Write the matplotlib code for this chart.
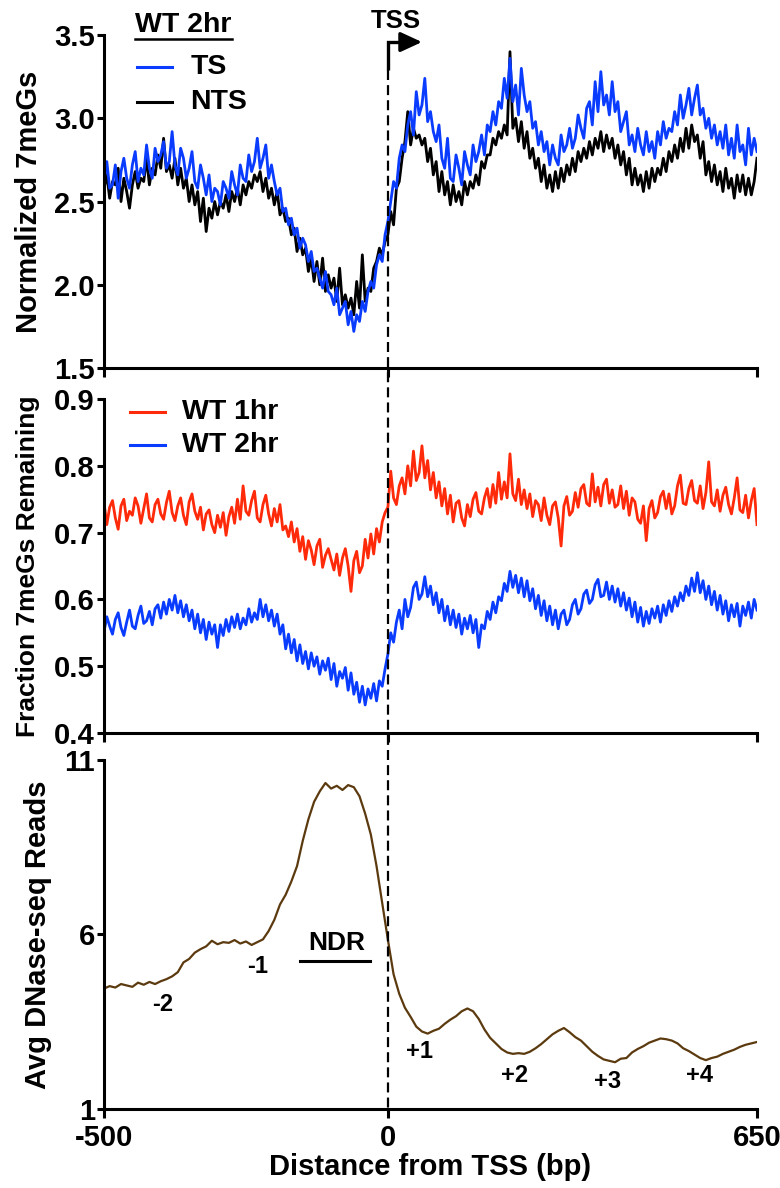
import numpy as np
import matplotlib
matplotlib.use("Agg")
import matplotlib.pyplot as plt
from matplotlib.lines import Line2D
from matplotlib.ticker import FormatStrFormatter
from matplotlib.transforms import blended_transform_factory

plt.rcParams['font.family'] = ['Liberation Sans', 'DejaVu Sans']
plt.rcParams['font.weight'] = 'bold'
plt.rcParams['axes.labelweight'] = 'bold'
plt.rcParams['axes.unicode_minus'] = False

# -------------------------------
# DATA (5 bp steps for 7meG, 10 bp for DNase)
# -------------------------------
pos_5bp = np.arange(-500, 651, 5)
pos_10bp = np.arange(-500, 651, 10)

ts_2hr = [
    2.62, 2.74, 2.58, 2.60, 2.72, 2.52, 2.68, 2.76, 2.64, 2.58, 2.72, 2.80, 2.62, 2.70, 2.66, 2.84, 2.70, 2.64, 2.82, 2.74,
    2.78, 2.86, 2.70, 2.74, 2.92, 2.72, 2.66, 2.82, 2.76, 2.64, 2.70, 2.80, 2.62, 2.58, 2.72, 2.64, 2.54, 2.66, 2.50, 2.58,
    2.56, 2.48, 2.62, 2.58, 2.52, 2.68, 2.60, 2.54, 2.72, 2.64, 2.62, 2.78, 2.68, 2.74, 2.88, 2.70, 2.76, 2.84, 2.64, 2.72,
    2.62, 2.54, 2.58, 2.44, 2.46, 2.36, 2.40, 2.30, 2.34, 2.22, 2.28, 2.24, 2.14, 2.20, 2.08, 2.10, 2.04, 1.98, 2.08, 1.96,
    1.94, 1.88, 1.98, 1.82, 1.86, 1.90, 1.76, 1.84, 1.72, 1.82, 1.78, 1.90, 1.84, 1.96, 2.02, 1.98, 2.12, 2.18, 2.14, 2.30,
    2.38, 2.50, 2.62, 2.58, 2.76, 2.84, 2.80, 2.96, 3.04, 2.90, 3.16, 3.02, 3.08, 3.24, 2.98, 3.04, 2.92, 2.86, 2.96, 2.76,
    2.70, 2.88, 2.64, 2.62, 2.78, 2.70, 2.60, 2.80, 2.72, 2.66, 2.84, 2.74, 2.80, 2.90, 2.78, 2.96, 2.92, 3.04, 2.96, 3.10,
    3.06, 3.24, 3.12, 3.36, 3.10, 3.20, 3.02, 3.30, 3.14, 3.04, 3.10, 2.94, 2.98, 2.84, 2.92, 2.80, 2.86, 2.72, 2.84, 2.76,
    2.72, 2.90, 2.80, 2.84, 2.94, 2.82, 2.88, 3.02, 2.94, 2.88, 3.06, 3.10, 2.96, 3.22, 3.04, 3.28, 3.08, 3.14, 3.02, 3.22,
    3.04, 3.10, 2.92, 2.98, 3.04, 2.84, 2.90, 2.80, 2.94, 2.84, 2.78, 2.92, 2.80, 2.86, 2.76, 2.92, 2.84, 2.98, 2.88, 2.94,
    2.92, 3.04, 2.96, 3.14, 3.00, 3.08, 3.18, 3.02, 3.12, 3.20, 3.02, 3.06, 2.94, 3.00, 2.88, 2.96, 2.84, 2.92, 2.82, 2.96,
    2.78, 2.88, 2.76, 2.96, 2.80, 2.84, 2.72, 2.94, 2.78, 2.88, 2.80,
]

nts_2hr = [
    2.58, 2.66, 2.52, 2.62, 2.60, 2.70, 2.50, 2.64, 2.56, 2.46, 2.60, 2.68, 2.58, 2.64, 2.62, 2.76, 2.60, 2.70, 2.66, 2.78,
    2.70, 2.88, 2.68, 2.72, 2.64, 2.76, 2.60, 2.70, 2.58, 2.64, 2.50, 2.60, 2.48, 2.56, 2.38, 2.52, 2.32, 2.46, 2.40, 2.50,
    2.42, 2.50, 2.46, 2.54, 2.44, 2.56, 2.50, 2.58, 2.48, 2.60, 2.54, 2.62, 2.58, 2.66, 2.62, 2.68, 2.56, 2.64, 2.52, 2.58,
    2.48, 2.56, 2.42, 2.46, 2.38, 2.40, 2.30, 2.34, 2.20, 2.28, 2.18, 2.22, 2.08, 2.16, 2.02, 2.14, 2.00, 2.16, 1.96, 2.06,
    1.98, 2.04, 1.90, 2.10, 1.88, 1.94, 1.86, 1.92, 1.82, 2.02, 1.86, 2.18, 1.90, 1.98, 1.96, 2.10, 2.14, 2.22, 2.18, 2.26,
    2.30, 2.44, 2.36, 2.58, 2.62, 2.76, 2.86, 3.04, 2.84, 2.94, 2.88, 2.90, 2.84, 2.88, 2.74, 2.82, 2.66, 2.74, 2.56, 2.68,
    2.54, 2.62, 2.48, 2.60, 2.50, 2.56, 2.48, 2.62, 2.54, 2.62, 2.58, 2.66, 2.60, 2.74, 2.70, 2.78, 2.78, 2.88, 2.84, 2.92,
    2.88, 2.96, 2.90, 3.40, 2.94, 3.00, 2.86, 2.98, 2.82, 2.92, 2.76, 2.82, 2.70, 2.76, 2.62, 2.72, 2.58, 2.66, 2.56, 2.68,
    2.58, 2.70, 2.62, 2.72, 2.66, 2.76, 2.68, 2.80, 2.74, 2.82, 2.76, 2.86, 2.78, 2.88, 2.82, 2.92, 2.80, 2.90, 2.82, 2.88,
    2.76, 2.84, 2.72, 2.80, 2.66, 2.76, 2.60, 2.70, 2.60, 2.66, 2.56, 2.68, 2.58, 2.70, 2.62, 2.70, 2.66, 2.76, 2.68, 2.80,
    2.74, 2.84, 2.76, 2.88, 2.80, 2.94, 2.82, 2.96, 2.86, 2.90, 2.76, 2.86, 2.66, 2.74, 2.62, 2.72, 2.60, 2.68, 2.56, 2.70,
    2.58, 2.64, 2.52, 2.66, 2.56, 2.66, 2.54, 2.64, 2.54, 2.62, 2.76,
]

frac_1hr = [
    0.745, 0.712, 0.738, 0.748, 0.722, 0.705, 0.740, 0.750, 0.718, 0.732, 0.726, 0.752, 0.740, 0.714, 0.736, 0.758, 0.722, 0.716, 0.742, 0.750,
    0.728, 0.720, 0.745, 0.762, 0.730, 0.718, 0.740, 0.752, 0.726, 0.712, 0.746, 0.758, 0.732, 0.720, 0.738, 0.704, 0.728, 0.734, 0.712, 0.700,
    0.726, 0.708, 0.730, 0.696, 0.724, 0.738, 0.714, 0.750, 0.720, 0.770, 0.732, 0.726, 0.748, 0.762, 0.722, 0.716, 0.742, 0.756, 0.728, 0.710,
    0.736, 0.716, 0.742, 0.704, 0.710, 0.694, 0.716, 0.686, 0.706, 0.672, 0.694, 0.660, 0.688, 0.674, 0.652, 0.680, 0.690, 0.648, 0.666, 0.676,
    0.660, 0.644, 0.668, 0.636, 0.662, 0.676, 0.650, 0.612, 0.658, 0.672, 0.640, 0.650, 0.690, 0.662, 0.698, 0.668, 0.706, 0.686, 0.716, 0.730,
    0.738, 0.792, 0.752, 0.742, 0.770, 0.782, 0.758, 0.800, 0.770, 0.822, 0.778, 0.790, 0.830, 0.782, 0.808, 0.764, 0.790, 0.752, 0.776, 0.740,
    0.766, 0.728, 0.756, 0.716, 0.744, 0.748, 0.722, 0.710, 0.742, 0.724, 0.750, 0.760, 0.732, 0.728, 0.752, 0.766, 0.738, 0.772, 0.744, 0.790,
    0.750, 0.776, 0.752, 0.818, 0.758, 0.748, 0.780, 0.742, 0.764, 0.736, 0.758, 0.724, 0.748, 0.742, 0.718, 0.752, 0.726, 0.712, 0.740, 0.746,
    0.722, 0.680, 0.740, 0.754, 0.726, 0.732, 0.760, 0.738, 0.766, 0.772, 0.744, 0.740, 0.788, 0.746, 0.768, 0.740, 0.772, 0.780, 0.744, 0.764,
    0.738, 0.742, 0.770, 0.736, 0.762, 0.726, 0.752, 0.746, 0.720, 0.714, 0.740, 0.688, 0.736, 0.748, 0.722, 0.730, 0.754, 0.762, 0.736, 0.758,
    0.728, 0.740, 0.770, 0.786, 0.744, 0.742, 0.766, 0.778, 0.748, 0.744, 0.770, 0.736, 0.760, 0.806, 0.746, 0.740, 0.764, 0.732, 0.756, 0.768,
    0.742, 0.728, 0.752, 0.782, 0.734, 0.730, 0.756, 0.722, 0.748, 0.766, 0.712,
]

frac_2hr = [
    0.552, 0.574, 0.560, 0.548, 0.570, 0.580, 0.558, 0.546, 0.566, 0.584, 0.560, 0.556, 0.576, 0.590, 0.564, 0.568, 0.582, 0.562, 0.586, 0.592,
    0.572, 0.596, 0.578, 0.600, 0.584, 0.606, 0.580, 0.598, 0.574, 0.592, 0.568, 0.584, 0.556, 0.578, 0.550, 0.570, 0.540, 0.566, 0.548, 0.562,
    0.528, 0.562, 0.546, 0.570, 0.552, 0.574, 0.558, 0.578, 0.556, 0.572, 0.562, 0.586, 0.566, 0.580, 0.570, 0.600, 0.574, 0.592, 0.568, 0.584,
    0.560, 0.578, 0.548, 0.562, 0.526, 0.548, 0.520, 0.540, 0.508, 0.532, 0.504, 0.522, 0.496, 0.520, 0.500, 0.514, 0.488, 0.508, 0.494, 0.512,
    0.480, 0.504, 0.470, 0.492, 0.482, 0.498, 0.464, 0.490, 0.458, 0.476, 0.446, 0.470, 0.442, 0.466, 0.452, 0.474, 0.448, 0.478, 0.470, 0.496,
    0.518, 0.550, 0.536, 0.566, 0.584, 0.556, 0.600, 0.574, 0.588, 0.618, 0.626, 0.600, 0.608, 0.634, 0.604, 0.620, 0.592, 0.610, 0.580, 0.600,
    0.568, 0.590, 0.562, 0.584, 0.558, 0.578, 0.548, 0.572, 0.556, 0.576, 0.550, 0.570, 0.528, 0.562, 0.556, 0.582, 0.570, 0.596, 0.580, 0.604,
    0.598, 0.624, 0.612, 0.642, 0.618, 0.636, 0.610, 0.632, 0.604, 0.628, 0.598, 0.616, 0.586, 0.606, 0.576, 0.598, 0.568, 0.590, 0.562, 0.584,
    0.556, 0.578, 0.584, 0.562, 0.570, 0.592, 0.600, 0.578, 0.586, 0.608, 0.614, 0.594, 0.600, 0.622, 0.630, 0.604, 0.606, 0.626, 0.600, 0.620,
    0.596, 0.616, 0.590, 0.610, 0.584, 0.602, 0.574, 0.596, 0.566, 0.588, 0.560, 0.582, 0.564, 0.586, 0.572, 0.590, 0.566, 0.592, 0.576, 0.598,
    0.582, 0.604, 0.590, 0.610, 0.598, 0.620, 0.606, 0.632, 0.612, 0.640, 0.610, 0.628, 0.600, 0.620, 0.592, 0.612, 0.584, 0.606, 0.578, 0.598,
    0.568, 0.592, 0.574, 0.594, 0.560, 0.590, 0.576, 0.596, 0.572, 0.600, 0.584,
]

dnase_reads = [
    4.45, 4.52, 4.48, 4.58, 4.54, 4.50, 4.62, 4.56, 4.64, 4.58,
    4.66, 4.72, 4.80, 4.92, 5.20, 5.30, 5.48, 5.58, 5.66, 5.82,
    5.72, 5.78, 5.76, 5.84, 5.74, 5.80, 5.70, 5.78, 5.86, 6.10,
    6.42, 6.86, 7.14, 7.52, 7.96, 8.68, 9.30, 9.80, 10.10, 10.34,
    10.18, 10.26, 10.14, 10.28, 10.22, 9.96, 9.46, 8.86, 7.96, 6.90,
    5.85, 4.86, 4.30, 3.90, 3.64, 3.36, 3.22, 3.16, 3.24, 3.30,
    3.44, 3.56, 3.66, 3.80, 3.88, 3.80, 3.58, 3.28, 3.04, 2.88,
    2.72, 2.62, 2.58, 2.60, 2.58, 2.64, 2.74, 2.86, 3.00, 3.14,
    3.24, 3.32, 3.20, 3.06, 2.96, 2.80, 2.64, 2.52, 2.42, 2.38,
    2.34, 2.44, 2.46, 2.62, 2.72, 2.80, 2.90, 2.96, 3.02, 3.00,
    2.96, 2.88, 2.74, 2.66, 2.56, 2.46, 2.40, 2.46, 2.50, 2.58,
    2.64, 2.70, 2.78, 2.84, 2.88, 2.92,
]

nuc_labels = ["-2", "-1", "+1", "+2", "+3", "+4"]
nuc_pos = [-396, -229, 55, 223, 387, 548]
nuc_y = [4.0, 5.07, 2.66, 1.95, 1.80, 1.95]

BLUE = "#0a3cff"
RED = "#ff2a0a"
BROWN = "#5c3a0f"

# -------------------------------
# FIGURE
# -------------------------------
fig = plt.figure(figsize=(7.8, 11.88), dpi=100)
left, width = 0.1333, 0.8372
ax1 = fig.add_axes([left, 0.6902, width, 0.2803])
ax2 = fig.add_axes([left, 0.3830, width, 0.2811])
ax3 = fig.add_axes([left, 0.0665, width, 0.2938])

for ax in (ax1, ax2, ax3):
    ax.set_xlim(-500, 650)
    ax.set_xticks([-500, 0, 650])
    for side in ("top", "right"):
        ax.spines[side].set_visible(False)
    for side in ("left", "bottom"):
        ax.spines[side].set_linewidth(2.2)
    ax.tick_params(axis="y", direction="out", length=5, width=2.2, pad=1.5, labelsize=21)
    ax.tick_params(axis="x", direction="out", length=6.5, width=2.2, pad=4, labelsize=21)

ax1.tick_params(axis="x", labelbottom=False)
ax2.tick_params(axis="x", labelbottom=False)

# panel 1: normalized 7meGs, TS vs NTS
ax1.plot(pos_5bp, nts_2hr, color="black", lw=2.0)
ax1.plot(pos_5bp, ts_2hr, color=BLUE, lw=2.0)
ax1.set_ylim(1.5, 3.5)
ax1.set_yticks([1.5, 2.0, 2.5, 3.0, 3.5])
ax1.yaxis.set_major_formatter(FormatStrFormatter("%.1f"))
ax1.set_ylabel("Normalized 7meGs", fontsize=21)
ax1.yaxis.set_label_coords(-0.093, 0.5)

ax1.text(0.047, 1.03, "WT 2hr", transform=ax1.transAxes, fontsize=20.5,
         ha="left", va="center")
ax1.plot([0.047, 0.196], [0.988, 0.988], transform=ax1.transAxes,
         color="black", lw=1.8, clip_on=False)
ax1.plot([0.050, 0.104], [0.904, 0.904], transform=ax1.transAxes, color=BLUE, lw=2.2)
ax1.text(0.132, 0.904, "TS", transform=ax1.transAxes, fontsize=20.5, ha="left", va="center")
ax1.plot([0.050, 0.104], [0.799, 0.799], transform=ax1.transAxes, color="black", lw=2.2)
ax1.text(0.132, 0.799, "NTS", transform=ax1.transAxes, fontsize=20.5, ha="left", va="center")

# TSS arrow
ax1.plot([0, 0, 30], [3.29, 3.458, 3.458], color="black", lw=2.4,
         solid_joinstyle="miter", solid_capstyle="butt", clip_on=False)
ax1.annotate("", xy=(60, 3.458), xytext=(25, 3.458), annotation_clip=False,
             arrowprops=dict(arrowstyle="-|>,head_length=0.65,head_width=0.3",
                             mutation_scale=20, lw=2.4, color="black",
                             shrinkA=0, shrinkB=0))
ax1.text(14, 3.585, "TSS", fontsize=18.5, ha="center", va="center")

# panel 2: fraction remaining
ax2.plot(pos_5bp, frac_1hr, color=RED, lw=2.0)
ax2.plot(pos_5bp, frac_2hr, color=BLUE, lw=2.0)
ax2.set_ylim(0.4, 0.9)
ax2.set_yticks([0.4, 0.5, 0.6, 0.7, 0.8, 0.9])
ax2.yaxis.set_major_formatter(FormatStrFormatter("%.1f"))
ax2.set_ylabel("Fraction 7meGs Remaining", fontsize=19)
ax2.yaxis.set_label_coords(-0.098, 0.5)

ax2.plot([0.040, 0.093], [0.961, 0.961], transform=ax2.transAxes, color=RED, lw=2.2)
ax2.text(0.120, 0.961, "WT 1hr", transform=ax2.transAxes, fontsize=20.5, ha="left", va="center")
ax2.plot([0.040, 0.093], [0.862, 0.862], transform=ax2.transAxes, color=BLUE, lw=2.2)
ax2.text(0.120, 0.862, "WT 2hr", transform=ax2.transAxes, fontsize=20.5, ha="left", va="center")

# panel 3: DNase-seq
ax3.plot(pos_10bp, dnase_reads, color=BROWN, lw=1.6)
ax3.set_ylim(1, 11)
ax3.set_yticks([1, 6, 11])
ax3.set_ylabel("Avg DNase-seq Reads", fontsize=21)
ax3.yaxis.set_label_coords(-0.080, 0.5)
ax3.set_xlabel("Distance from TSS (bp)", fontsize=21, labelpad=1)

ax3.text(-90, 5.76, "NDR", fontsize=19, ha="center", va="center")
ax3.plot([-155, -32], [5.24, 5.24], color="black", lw=2.2)
for lab, xp, yp in zip(nuc_labels, nuc_pos, nuc_y):
    ax3.text(xp, yp, lab, fontsize=17, ha="center", va="center")

# dashed TSS line through all panels
trans = blended_transform_factory(ax3.transData, fig.transFigure)
tss_line = Line2D([0, 0], [1 - 70 / 1188, 0.0665], transform=trans,
                  color="black", lw=1.6, dashes=(4.5, 2.3))
fig.add_artist(tss_line)

fig.savefig("out.png", dpi=100)
